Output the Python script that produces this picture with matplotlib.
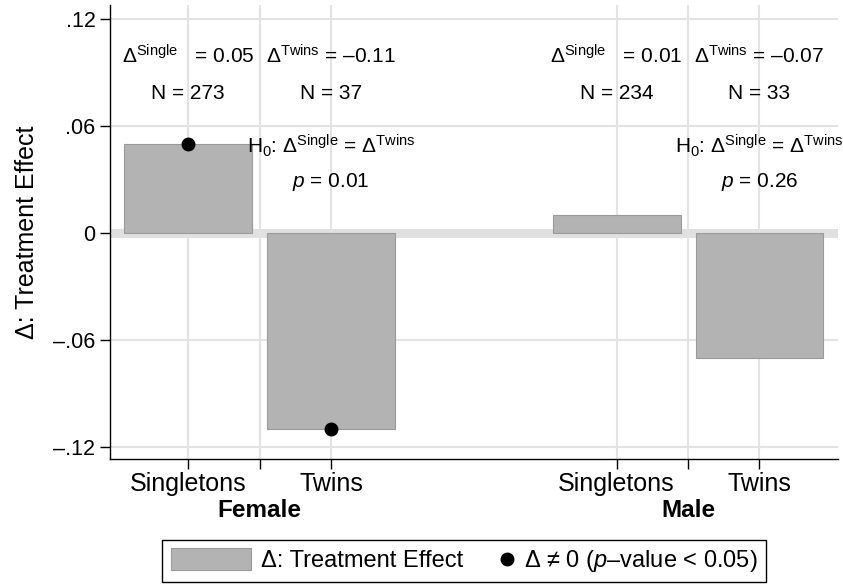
import matplotlib
matplotlib.use("Agg")
import matplotlib.pyplot as plt
from matplotlib.patches import Rectangle
from matplotlib.lines import Line2D

plt.rcParams['font.family'] = ['Liberation Sans', 'DejaVu Sans']
plt.rcParams['mathtext.fontset'] = 'custom'
plt.rcParams['mathtext.rm'] = 'Liberation Sans'
plt.rcParams['mathtext.it'] = 'Liberation Sans:italic'
plt.rcParams['mathtext.bf'] = 'Liberation Sans:bold'

# data
groups = ['Female', 'Male']
categories = ['Singletons', 'Twins']
effects = [[0.05, -0.11], [0.01, -0.07]]
n_obs = [[273, 37], [234, 33]]
significant = [[True, True], [False, False]]
p_equal = [0.01, 0.26]
yticks = [0.12, 0.06, 0, -0.06, -0.12]
ytick_labels = ['.12', '.06', '0', '\u2013.06', '\u2013.12']

bar_color = '#b3b3b3'
grid_color = '#e3e3e3'


class BoxHandler:
    # wider box for the bar entry of the legend
    def legend_artist(self, legend, orig_handle, fontsize, handlebox):
        handlebox.width = 3.4 * fontsize
        r = Rectangle((0, -0.12 * fontsize), handlebox.width, 0.93 * fontsize,
                      facecolor=bar_color, edgecolor='#9a9a9a', lw=0.8,
                      transform=handlebox.get_transform())
        handlebox.add_artist(r)
        return r


fig = plt.figure(figsize=(8.43, 5.84), dpi=100)
ax = fig.add_axes([0.1305, 0.2135, 0.8635, 0.778])

xpos, xlabels, seps = [], [], []
for g in range(len(groups)):
    base = 3 * g
    seps.append(base + 0.5)
    for k in range(len(categories)):
        x = base + k
        xpos.append(x)
        xlabels.append(categories[k])
        val = effects[g][k]
        ax.bar(x, val, width=0.895, color=bar_color, edgecolor='#9a9a9a',
               linewidth=0.8, zorder=3)
        if significant[g][k]:
            ax.plot(x, val, 'o', color='black', markersize=9, zorder=4)
        name = 'Single' if k == 0 else 'Twins'
        gap = '   ' if k == 0 else ' '
        sign = '\u2013' if val < 0 else ''
        ax.text(x, 0.0951, r'$\Delta^{\rm %s}$' % name + gap + '= %s%.2f' % (sign, abs(val)),
                ha='center', va='baseline', fontsize=15, zorder=5)
        ax.text(x, 0.075, 'N = %d' % n_obs[g][k], ha='center', va='baseline',
                fontsize=15, zorder=5)
    ax.text(base + 1, 0.0449, r'H$_0$: $\Delta^{\rm Single}$ = $\Delta^{\rm Twins}$',
            ha='center', va='baseline', fontsize=15, zorder=5)
    ax.text(base + 1, 0.026, r'$p$ = %.2f' % p_equal[g], ha='center',
            va='baseline', fontsize=15, zorder=5)
    ax.text(base + 0.5, -0.1595, groups[g], ha='center', va='baseline',
            fontsize=17.5, fontweight='bold')

# zero band and grid
ax.axhline(0, color='#e0e0e0', lw=6.5, zorder=1)
for y in yticks:
    if y != 0:
        ax.axhline(y, color=grid_color, lw=1.5, zorder=1)
for x in xpos + seps:
    ax.axvline(x, color=grid_color, lw=1.5, zorder=1)

ax.set_xlim(-0.548, 4.55)
ax.set_ylim(-0.1271, 0.128)
ticks = sorted(xpos + seps)
ax.set_xticks(ticks)
ax.set_xticklabels(['' if x in seps else xlabels[xpos.index(x)] for x in ticks],
                   fontsize=18)
ax.set_yticks(yticks)
ax.set_yticklabels(ytick_labels, fontsize=15.5)
ax.tick_params(direction='out', length=7, width=1)
ax.tick_params(axis='x', pad=2)
ax.tick_params(axis='y', pad=3.5)
ax.set_ylabel('\u0394: Treatment Effect', fontsize=18, labelpad=10)

for s in ['top', 'right']:
    ax.spines[s].set_visible(False)
ax.spines['left'].set_linewidth(1)
ax.spines['bottom'].set_linewidth(1)

handles = [Rectangle((0, 0), 1, 1, color=bar_color),
           Line2D([], [], marker='o', color='black', ls='none', markersize=9)]
labels = ['\u0394: Treatment Effect', '\u0394 \u2260 0 ($p$\u2013value < 0.05)']
leg = fig.legend(handles, labels, loc='center', bbox_to_anchor=(0.5504, 0.039),
                 ncol=2, fontsize=17, frameon=True, fancybox=False,
                 edgecolor='black', framealpha=1, handlelength=0.5,
                 handletextpad=0.45, columnspacing=1.6, borderpad=0.35,
                 handler_map={Rectangle: BoxHandler()})
leg.get_frame().set_linewidth(1)

fig.savefig('out.png', dpi=100)
